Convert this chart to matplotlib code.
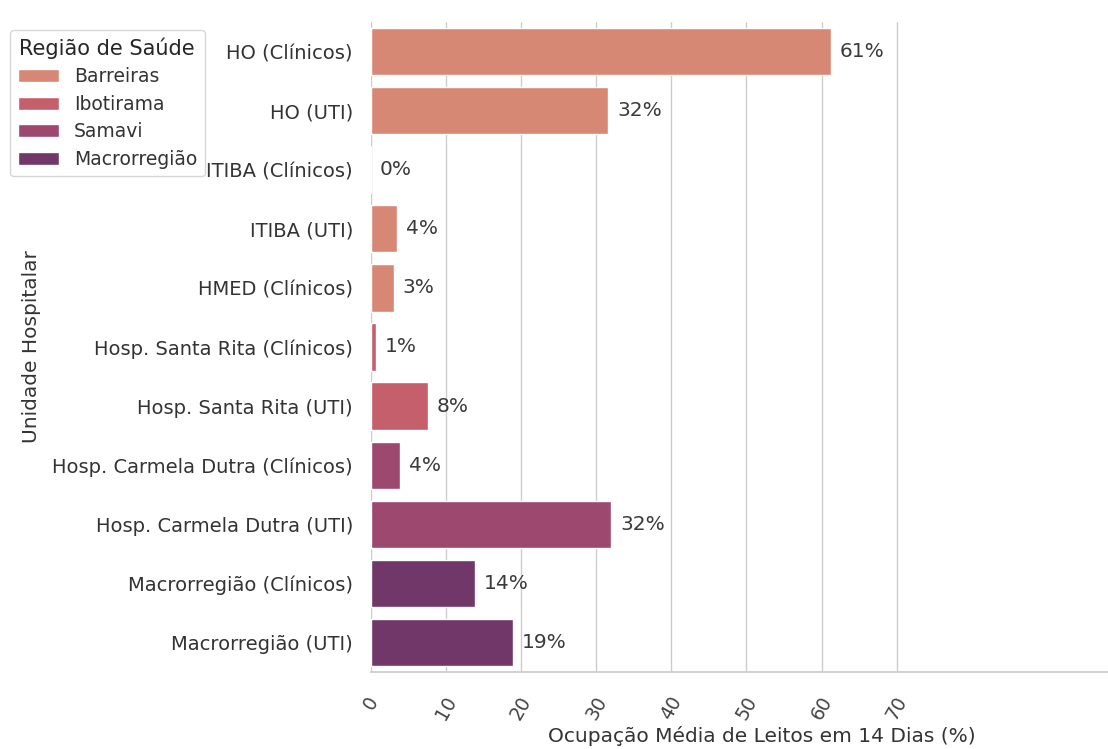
import matplotlib
matplotlib.use("Agg")
import matplotlib.pyplot as plt
import seaborn as sns
import pandas as pd

unidades = ["HO (Clínicos)", "HO (UTI)", "ITIBA (Clínicos)", "ITIBA (UTI)", "HMED (Clínicos)",
            "Hosp. Santa Rita (Clínicos)", "Hosp. Santa Rita (UTI)",
            "Hosp. Carmela Dutra (Clínicos)", "Hosp. Carmela Dutra (UTI)",
            "Macrorregião (Clínicos)", "Macrorregião (UTI)"]
ocupacao = [61.2, 31.6, 0.0, 3.5, 3.0, 0.6, 7.6, 3.8, 32.0, 13.8, 18.9]
regioes = ["Barreiras", "Barreiras", "Barreiras", "Barreiras", "Barreiras",
           "Ibotirama", "Ibotirama", "Samavi", "Samavi", "Macrorregião", "Macrorregião"]

df = pd.DataFrame({"Unidade": unidades, "Ocupacao": ocupacao, "Regiao": regioes})

sns.set_theme(style="whitegrid")
plt.rcParams["font.family"] = ["DejaVu Sans"]

fig = plt.figure(figsize=(11.08, 7.49), dpi=100)
ax = fig.add_axes([371 / 1108, 77 / 749, 781 / 1108, 650 / 749])

sns.barplot(data=df, x="Ocupacao", y="Unidade", hue="Regiao", dodge=False,
            palette="flare", ax=ax)

for i, v in enumerate(ocupacao):
    ax.text(v + 1.2, i, f"{v:.0f}%", va="center", ha="left", fontsize=14.5, color="#3a3a3a")

ax.set_xlim(0, 104)
ax.set_xticks(range(0, 80, 10))
ax.tick_params(axis="x", labelrotation=60, labelsize=13.5, labelcolor="#444444", pad=9)
ax.tick_params(axis="y", labelsize=14, labelcolor="#333333", pad=7)
ax.set_xlabel("Ocupação Média de Leitos em 14 Dias (%)", fontsize=14.5, color="#333333",
              labelpad=2)
ax.set_ylabel("Unidade Hospitalar", fontsize=14.5, color="#333333", labelpad=8)
ax.grid(axis="y", visible=False)
sns.despine(ax=ax, left=True)

leg = ax.legend(title="Região de Saúde", loc="upper left",
                bbox_to_anchor=(10 / 1108, 1 - 30 / 749), bbox_transform=fig.transFigure,
                fontsize=13.5, title_fontsize=15, borderaxespad=0,
                labelspacing=0.45, handlelength=2.2)
for t in leg.get_texts():
    t.set_color("#333333")

fig.savefig("out.png", dpi=100)
